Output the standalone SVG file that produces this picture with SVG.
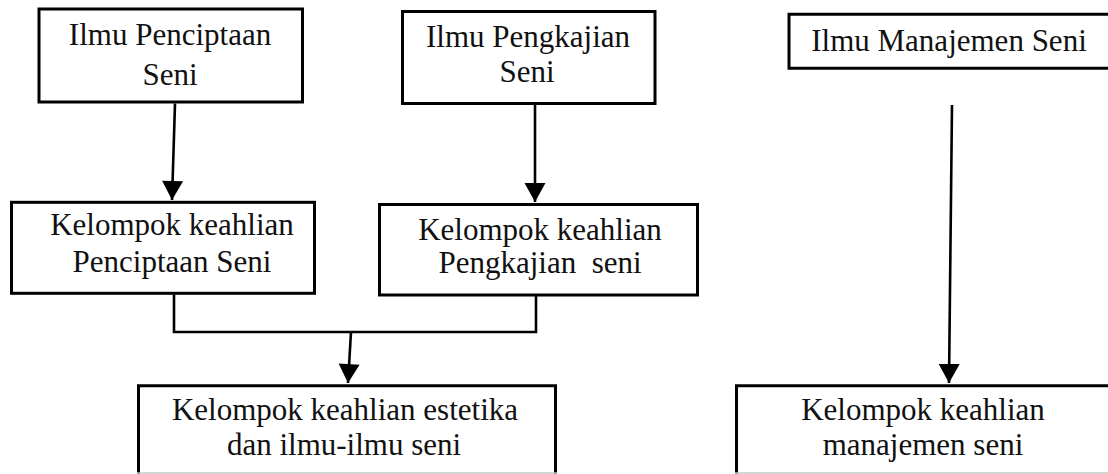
<svg xmlns="http://www.w3.org/2000/svg" width="1108" height="474" viewBox="0 0 1108 474">
  <style>
    .box { fill: #ffffff; stroke: #000000; stroke-width: 3; }
    .lbl { font-family: "Liberation Serif", "DejaVu Serif", serif; font-size: 31px; fill: #111111; text-anchor: middle; }
    .conn { fill: none; stroke: #000000; stroke-width: 2.6; }
    .edge { fill: none; stroke: #c8c8c8; stroke-width: 1.5; }
  </style>
  <defs>
    <marker id="arrow" markerUnits="userSpaceOnUse" markerWidth="24" markerHeight="24" refX="19" refY="10.5" orient="auto" overflow="visible">
      <path d="M0,0 L19,10.5 L0,21 Z" fill="#000000"/>
    </marker>
  </defs>
  <rect width="1108" height="474" fill="#ffffff"/>

  <g id="ilmu-penciptaan">
    <rect class="box" x="39" y="9" width="263.5" height="93"/>
    <text class="lbl" x="170" y="45">Ilmu Penciptaan</text>
    <text class="lbl" x="170" y="85">Seni</text>
  </g>

  <g id="ilmu-pengkajian">
    <rect class="box" x="402.5" y="11.5" width="252.5" height="92"/>
    <text class="lbl" x="528" y="47">Ilmu Pengkajian</text>
    <text class="lbl" x="527" y="82">Seni</text>
  </g>

  <g id="ilmu-manajemen">
    <path class="box" d="M1112,14.3 H789 V68.3 H1112"/>
    <text class="lbl" x="949" y="51">Ilmu Manajemen Seni</text>
  </g>

  <g id="kk-penciptaan">
    <rect class="box" x="11.5" y="202.3" width="303" height="91"/>
    <text class="lbl" x="172" y="235">Kelompok keahlian</text>
    <text class="lbl" x="172" y="272">Penciptaan Seni</text>
  </g>

  <g id="kk-pengkajian">
    <rect class="box" x="379.5" y="204.5" width="318" height="90.5"/>
    <text class="lbl" x="540" y="240">Kelompok keahlian</text>
    <text class="lbl" x="540" y="273" xml:space="preserve">Pengkajian  seni</text>
  </g>

  <g id="kk-estetika">
    <path class="box" d="M138.5,475 V385.7 H555.5 V475"/>
    <line class="edge" x1="137" y1="473" x2="557" y2="473"/>
    <text class="lbl" x="345" y="420">Kelompok keahlian estetika</text>
    <text class="lbl" x="344" y="455">dan ilmu-ilmu seni</text>
  </g>

  <g id="kk-manajemen">
    <path class="box" d="M736.5,475 V385.7 H1112"/>
    <line class="edge" x1="735" y1="473" x2="1108" y2="473"/>
    <text class="lbl" x="923" y="420">Kelompok keahlian</text>
    <text class="lbl" x="923" y="455">manajemen seni</text>
  </g>

  <g id="connectors">
    <line class="conn" x1="175" y1="103.5" x2="172" y2="200" marker-end="url(#arrow)"/>
    <line class="conn" x1="535" y1="105" x2="535" y2="202" marker-end="url(#arrow)"/>
    <path class="conn" d="M174,294.5 V332 H536 V296"/>
    <line class="conn" x1="351" y1="332" x2="348" y2="383" marker-end="url(#arrow)"/>
    <line class="conn" x1="952" y1="105" x2="949" y2="383" marker-end="url(#arrow)"/>
  </g>
</svg>
